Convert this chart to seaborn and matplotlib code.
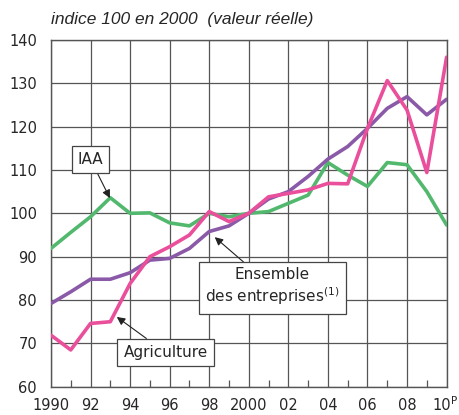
import numpy as np
import pandas as pd
import matplotlib
matplotlib.use("Agg")
import matplotlib.pyplot as plt
import matplotlib.transforms as mtransforms
import seaborn as sns

# data (index 100 in 2000)
years = list(range(1990, 2011))
iaa = [91.9, 95.6, 99.2, 103.6, 100.0, 100.1, 97.8, 97.1, 100.0, 99.2, 100.0,
       100.4, 102.3, 104.2, 111.7, 108.8, 106.2, 111.7, 111.2, 105.0, 97.3]
ensemble = [79.2, 81.9, 84.8, 84.8, 86.3, 89.2, 89.6, 91.9, 95.8, 97.1, 100.0,
            103.3, 105.0, 108.5, 112.5, 115.4, 119.6, 124.2, 126.9, 122.7, 126.3]
agriculture = [71.9, 68.5, 74.6, 75.0, 83.8, 90.0, 92.3, 95.0, 100.4, 98.1, 100.0,
               103.8, 104.6, 105.4, 106.9, 106.8, 119.6, 130.6, 123.8, 109.4, 136.0]
series_names = ["IAA", "Ensemble", "Agriculture"]
colors = ["#52b86e", "#8a5aa8", "#ea4f9c"]

xtick_labels = ["1990", "92", "94", "96", "98", "2000", "02", "04", "06", "08", "10"]

df = pd.DataFrame({
    "annee": years * 3,
    "indice": iaa + ensemble + agriculture,
    "serie": ["IAA"] * 21 + ["Ensemble"] * 21 + ["Agriculture"] * 21,
})

sns.set_style("white")
plt.rcParams["font.family"] = ["DejaVu Sans"]

fig = plt.figure(figsize=(4.59, 4.15), dpi=100)
ax = fig.add_axes([0.111, 0.068, 0.862, 0.836])

sns.lineplot(data=df, x="annee", y="indice", hue="serie", hue_order=series_names,
             palette=colors, linewidth=2.6, legend=False, ax=ax, zorder=3)

ax.set_xlim(1990, 2010)
ax.set_ylim(60, 140)
ax.set_xticks(range(1990, 2011, 2))
ax.set_xticklabels(xtick_labels)
ax.set_xticks(range(1991, 2010, 2), minor=True)
ax.set_yticks(range(60, 141, 10))
ax.grid(True, which="major", color="#555555", linewidth=0.9)
ax.tick_params(axis="x", which="major", bottom=False, length=0, labelsize=10.5, pad=8)
ax.tick_params(axis="x", which="minor", bottom=True, direction="in", length=5,
               width=0.9, color="#555555")
ax.tick_params(axis="y", length=0, labelsize=10.5, pad=10)
ax.set_xlabel("")
ax.set_ylabel("")
for s in ax.spines.values():
    s.set_color("#555555")
    s.set_linewidth(1.0)

# shift the last year label a bit left and add the small "P" (provisional)
last = ax.get_xticklabels()[-1]
last.set_transform(last.get_transform() +
                   mtransforms.ScaledTranslation(-5 / 100, 0, fig.dpi_scale_trans))
ax.annotate("P", xy=(2010, 60), xycoords="data", xytext=(5.5, -10),
            textcoords="offset points", fontsize=7.5, ha="center", va="center",
            annotation_clip=False)

fig.text(0.111, 0.952, "indice 100 en 2000  (valeur réelle)", fontsize=12.5,
         style="italic", ha="left", va="center", family="Liberation Sans")

box = dict(boxstyle="square,pad=0.4", fc="white", ec="#444444", lw=0.9)
arrow = dict(arrowstyle="-|>", color="#222222", lw=0.8, mutation_scale=12,
             shrinkA=0, shrinkB=0)

ax.annotate("IAA", xy=(1992.98, 103.5), xytext=(1992.0, 112.4),
            fontsize=11, ha="center", va="center", bbox=box,
            arrowprops=arrow, zorder=5)
ax.annotate("Ensemble\ndes entreprises$^{\\mathregular{(1)}}$",
            xy=(1998.28, 94.5), xytext=(2001.2, 83.0),
            fontsize=11, ha="center", va="center", bbox=box,
            linespacing=1.25, arrowprops=arrow, zorder=5)
ax.annotate("Agriculture", xy=(1993.33, 76.1), xytext=(1995.8, 67.9),
            fontsize=11, ha="center", va="center", bbox=box,
            arrowprops=arrow, zorder=5)

fig.savefig("out.png", dpi=100)
